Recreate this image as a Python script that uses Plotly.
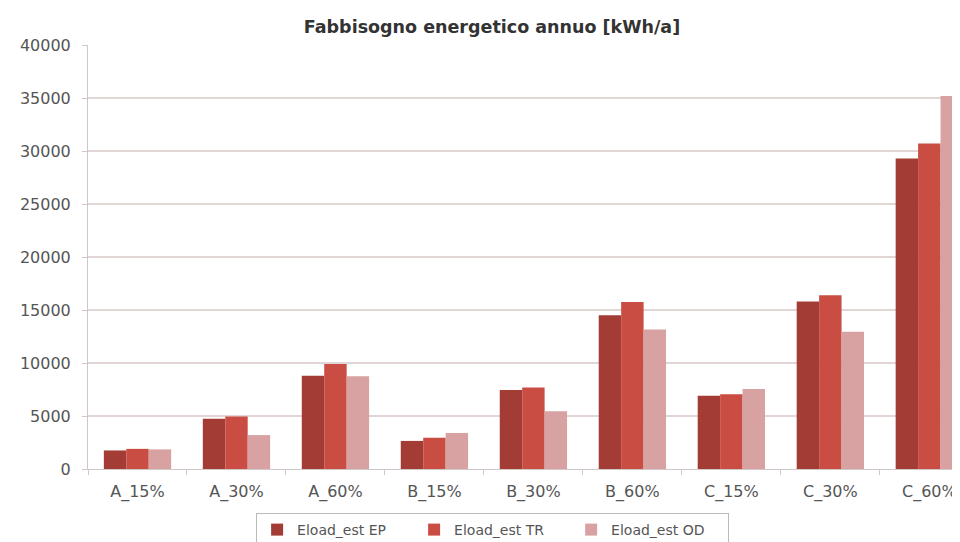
import plotly.graph_objects as go

categories = ["A_15%", "A_30%", "A_60%", "B_15%", "B_30%", "B_60%", "C_15%", "C_30%", "C_60%"]
ep = [1750, 4750, 8800, 2650, 7450, 14500, 6900, 15800, 29300]
tr = [1900, 4950, 9900, 2950, 7700, 15750, 7050, 16400, 30700]
od = [1850, 3200, 8750, 3400, 5450, 13150, 7550, 12950, 35200]
series_names = ["Eload_est EP", "Eload_est TR", "Eload_est OD"]
colors = ["#A33C35", "#C94D42", "#D9A2A2"]
y_ticks = [0, 5000, 10000, 15000, 20000, 25000, 30000, 35000, 40000]
y_tick_labels = ["0", "5000", "10000", "15000", "20000", "25000", "30000", "35000", "40000"]

fig = go.Figure()
for name, vals, col in zip(series_names, [ep, tr, od], colors):
    fig.add_trace(go.Bar(x=categories, y=vals, name=name, marker=dict(color=col, line=dict(width=0))))

font_family = "'DejaVu Sans', sans-serif"
W, H = 952, 534
fig.update_layout(
    width=W, height=H,
    margin=dict(l=80, r=0, t=37, b=73),
    paper_bgcolor="white", plot_bgcolor="white",
    barmode="group", bargap=0.32, bargroupgap=0,
    font=dict(family=font_family, size=13, color="#555555"),
    title=dict(text="<b>Fabbisogno energetico annuo [kWh/a]</b>", x=484 / W, xref="container",
               y=1 - 19 / H, yref="container", xanchor="center", yanchor="middle",
               font=dict(size=17.5, color="#333333", family=font_family)),
    legend=dict(orientation="h", x=0.464, xanchor="center", xref="paper",
                y=(H - 505) / H, yanchor="top", yref="container",
                bordercolor="#BBBBBB", borderwidth=1, bgcolor="white",
                font=dict(size=14, color="#555555"), entrywidth=112, entrywidthmode="pixels",
                itemwidth=30),
    showlegend=True,
)
fig.update_yaxes(range=[0, 40000], tickvals=y_ticks, ticktext=y_tick_labels, showgrid=True,
                 gridcolor="#E2D6D4", gridwidth=2,
                 showline=True, linecolor="#D0C8C8", ticks="outside", ticklen=5, tickcolor="#D0C8C8",
                 zeroline=False, tickfont=dict(size=16, color="#555555"), ticklabelstandoff=8)
fig.update_xaxes(range=[-0.5, 8.31], showline=True, linecolor="#D0C8C8", ticks="outside", ticklen=5,
                 tickcolor="#D0C8C8", tickson="boundaries", showgrid=False,
                 tickfont=dict(size=16, color="#555555"), ticklabelstandoff=8)

fig.write_html("out.html")
